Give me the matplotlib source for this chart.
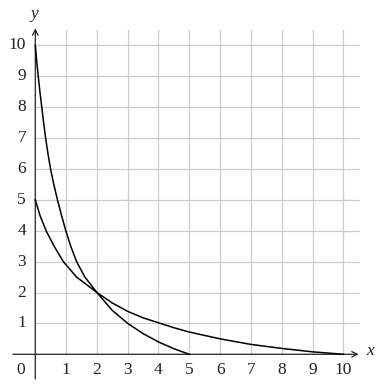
import numpy as np
import matplotlib.pyplot as plt

plt.rcParams['font.family'] = ['Liberation Serif', 'DejaVu Serif']

# steep curve: (0,10) -> (2,2) -> (5,0)
x1 = [0, 0.045, 0.095, 0.15, 0.21, 0.27, 0.335, 0.41, 0.495, 0.60, 0.72, 0.85, 0.99,
      1.15, 1.34, 1.61, 2.0, 2.5, 3.0, 3.5, 4.0, 4.5, 5.0]
y1 = [10, 9.5, 9.0, 8.5, 8.0, 7.5, 7.0, 6.5, 6.0, 5.5, 5.0, 4.5, 4.0,
      3.5, 3.0, 2.5, 2.0, 1.42, 1.0, 0.67, 0.4, 0.18, 0]

# flatter curve: (0,5) -> (2,2) -> (10,0)
x2 = [0, 0.15, 0.35, 0.61, 0.91, 1.34, 2.0, 2.5, 3.0, 3.5, 4.0, 4.5, 5.0,
      6.0, 7.0, 8.0, 9.0, 10.0]
y2 = [5, 4.5, 4.0, 3.5, 3.0, 2.5, 2.0, 1.66, 1.39, 1.18, 1.02, 0.86, 0.72,
      0.5, 0.32, 0.19, 0.08, 0]

xticks = list(range(1, 11))
yticks = list(range(1, 11))

fig = plt.figure(figsize=(3.81, 3.91), dpi=100)
ax = fig.add_axes([0, 0, 1, 1])
ax.set_xlim(-1.146, 11.224)
ax.set_ylim(-1.188, 11.467)
ax.axis('off')

# grid in the first quadrant only
gcol = '#cccccc'
for v in xticks:
    ax.plot([v, v], [0, 10.5], color=gcol, lw=0.9, zorder=1)
for v in yticks:
    ax.plot([0, 10.5], [v, v], color=gcol, lw=0.9, zorder=1)

# axes with open arrow heads
acol = '#222222'
ax.annotate('', xy=(10.5, 0), xytext=(-0.73, 0),
            arrowprops=dict(arrowstyle='->', lw=0.9, color=acol, mutation_scale=10,
                            shrinkA=0, shrinkB=0), zorder=2)
ax.annotate('', xy=(0, 10.55), xytext=(0, -0.8),
            arrowprops=dict(arrowstyle='->', lw=0.9, color=acol, mutation_scale=10,
                            shrinkA=0, shrinkB=0), zorder=2)

ax.plot(x1, y1, color='black', lw=1.1, zorder=3, solid_joinstyle='round')
ax.plot(x2, y2, color='black', lw=1.1, zorder=3, solid_joinstyle='round')

# tick labels
fs = 12.5
for v in xticks:
    ax.text(v, -0.51, str(v), ha='center', va='center', fontsize=fs, color='#222')
for v in yticks:
    ax.text(-0.3, v, str(v), ha='right', va='center', fontsize=fs, color='#222')
ax.text(-0.47, -0.51, '0', ha='center', va='center', fontsize=fs, color='#222')

ax.text(10.87, 0.12, 'x', ha='center', va='center', fontsize=fs, style='italic', color='#222')
ax.text(-0.03, 11.03, 'y', ha='center', va='center', fontsize=fs, style='italic', color='#222')

fig.savefig('out.png', dpi=100)
